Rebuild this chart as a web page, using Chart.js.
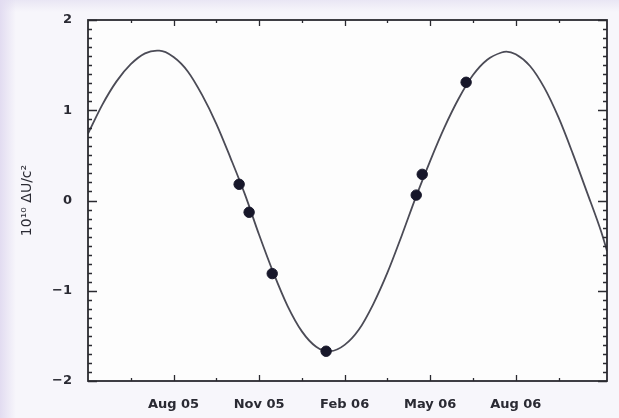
<!DOCTYPE html>
<html>
<head>
<meta charset="utf-8">
<script src="https://cdn.jsdelivr.net/npm/chart.js@4"></script>
<style>
  html, body { margin: 0; padding: 0; }
  body {
    width: 619px; height: 418px; overflow: hidden;
    background:
      linear-gradient(to bottom, #e9e6f4 0, #f7f6fb 12px, #f7f6fb 100%);
  }
  #wrap { position: relative; width: 619px; height: 418px;
    background: linear-gradient(to right, #e2dcf1 0, rgba(247,246,251,0) 16px); }
</style>
</head>
<body>
<div id="wrap"><canvas id="chart" width="619" height="418"></canvas></div>
<script>
// months counted from Aug 2005 (0 = Aug 05, 3 = Nov 05 ...)
var curveMonths = [-3, -2.5, -2, -1.5, -1, -0.58, -0.5, 0, 0.5, 1,
  1.5, 2, 2.5, 3, 3.5, 4, 4.5, 5, 5.46, 5.5,
  6, 6.5, 7, 7.5, 8, 8.5, 9, 9.5, 10, 10.5,
  11, 11.5, 11.67, 12, 12.5, 13, 13.5, 14, 14.5, 15, 15.2];
var curveValues = [0.74, 1.06, 1.32, 1.51, 1.63, 1.66, 1.66, 1.59, 1.43, 1.17,
  0.85, 0.47, 0.07, -0.38, -0.80, -1.17, -1.45, -1.62, -1.67, -1.67,
  -1.60, -1.43, -1.15, -0.80, -0.39, 0.04, 0.44, 0.81, 1.13, 1.39,
  1.56, 1.64, 1.65, 1.62, 1.49, 1.25, 0.92, 0.52, 0.09, -0.35, -0.56];

var pointMonths = [2.30, 2.65, 3.46, 5.35, 8.51, 8.72, 10.26];
var pointValues = [0.18, -0.13, -0.81, -1.67, 0.06, 0.29, 1.31];

var xMajorTicks = [0, 3, 6, 9, 12];
var xMinorTicks = [-1.5, 1.5, 4.5, 7.5, 10.5, 13.5];
var xTickLabels = ['Aug 05', 'Nov 05', 'Feb 06', 'May 06', 'Aug 06'];
var yMajorTicks = [-2, -1, 0, 1, 2];
var yMinorStep = 0.1;

const X_MIN = -3, X_MAX = 15.2;
const FONT = 'DejaVu Sans';

function toPoints(xs, ys) {
  return xs.map((x, i) => ({ x: x, y: ys[i] }));
}

// white plot area, IDL style frame with inward ticks on all four sides
const framePlugin = {
  id: 'frame',
  beforeDraw(chart) {
    const a = chart.chartArea, ctx = chart.ctx;
    ctx.save();
    ctx.fillStyle = '#fdfdfd';
    ctx.fillRect(a.left, a.top, a.right - a.left, a.bottom - a.top);
    ctx.restore();
  },
  afterDraw(chart) {
    const a = chart.chartArea, ctx = chart.ctx;
    const xs = chart.scales.x, ys = chart.scales.y;
    ctx.save();
    ctx.strokeStyle = '#2a2a30';
    ctx.lineWidth = 1.3;
    ctx.beginPath();
    xMajorTicks.forEach(v => {
      let px = Math.round(xs.getPixelForValue(v)) + 0.5;
      ctx.moveTo(px, a.bottom); ctx.lineTo(px, a.bottom - 6);
      ctx.moveTo(px, a.top); ctx.lineTo(px, a.top + 6);
    });
    xMinorTicks.forEach(v => {
      let px = Math.round(xs.getPixelForValue(v)) + 0.5;
      ctx.moveTo(px, a.bottom); ctx.lineTo(px, a.bottom - 3);
      ctx.moveTo(px, a.top); ctx.lineTo(px, a.top + 3);
    });
    for (let i = 0; i <= 40; i++) {
      let v = -2 + i * yMinorStep;
      let py = Math.round(ys.getPixelForValue(v)) + 0.5;
      let len = (i % 10 == 0) ? 9 : 4;
      ctx.moveTo(a.left, py); ctx.lineTo(a.left + len, py);
      ctx.moveTo(a.right, py); ctx.lineTo(a.right - len, py);
    }
    ctx.stroke();
    ctx.lineWidth = 1.8;
    ctx.strokeRect(a.left, a.top, a.right - a.left, a.bottom - a.top);
    ctx.restore();
  }
};

window.onload = () => {
  new Chart('chart', {
    type: 'scatter',
    data: {
      datasets: [{
        data: toPoints(pointMonths, pointValues),
        pointRadius: 5.2,
        pointHoverRadius: 5.2,
        backgroundColor: '#17172a',
        borderColor: '#17172a',
        order: 0
      }, {
        data: toPoints(curveMonths, curveValues),
        showLine: true,
        pointRadius: 0,
        borderColor: '#4b4b56',
        borderWidth: 1.8,
        cubicInterpolationMode: 'monotone',
        order: 1
      }]
    },
    options: {
      responsive: false,
      animation: false,
      events: [],
      layout: { padding: { left: 15, right: 12, top: 20, bottom: 0 } },
      plugins: { legend: { display: false }, tooltip: { enabled: false } },
      scales: {
        x: {
          type: 'linear',
          min: X_MIN,
          max: X_MAX,
          afterBuildTicks: s => { s.ticks = xMajorTicks.map(v => ({ value: v })); },
          afterFit: s => { s.height = 37; },
          grid: { display: false },
          border: { display: false },
          ticks: {
            padding: 8,
            maxRotation: 0,
            autoSkip: false,
            color: '#2a2a33',
            font: { family: FONT, size: 13, weight: 'bold' },
            callback: v => xTickLabels[xMajorTicks.indexOf(v)] || ''
          }
        },
        y: {
          min: -2,
          max: 2,
          afterBuildTicks: s => { s.ticks = yMajorTicks.map(v => ({ value: v })); },
          afterFit: s => { s.width = 73; },
          grid: { display: false },
          border: { display: false },
          ticks: {
            padding: 8,
            color: '#2a2a33',
            font: { family: FONT, size: 13, weight: 'bold' },
            callback: v => (v < 0 ? '\u2212' + Math.abs(v) : '' + v)
          },
          title: {
            display: true,
            text: '10\u00b9\u2070 \u0394U/c\u00b2',
            color: '#2a2a33',
            padding: { top: 4, bottom: 0 },
            font: { family: FONT, size: 14 }
          }
        }
      }
    },
    plugins: [framePlugin]
  });
};
</script>
</body>
</html>
